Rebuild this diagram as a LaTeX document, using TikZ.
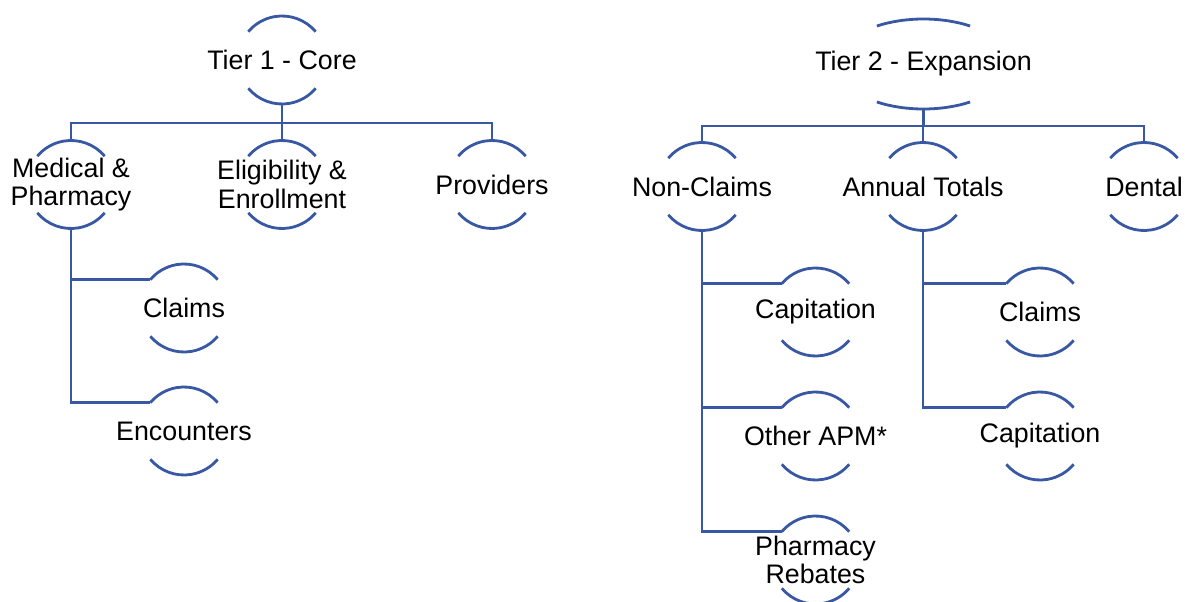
\documentclass[tikz,border=0pt]{standalone}
\usepackage{fontspec}
\setmainfont{Liberation Sans}
\usepackage{tikz}
\usetikzlibrary{calc}
\definecolor{linkblue}{RGB}{56,88,164}

\begin{document}
\begin{tikzpicture}[x=0.5pt,y=0.5pt,
  lbl/.style={font=\fontsize{13.4}{14.4}\selectfont, align=center, inner sep=0pt, minimum height=44pt},
  ring/.style={draw=linkblue, line width=1.4pt},
  link/.style={draw=linkblue, line width=1.4pt}]
\useasboundingbox[fill=white] (0,0) rectangle (1185,601);
% round nodes: text with an arc above and below
\foreach \n/\x/\y/\t in {tier1/282/541/{Tier 1 - Core},
    medph/71/416.5/{Medical \&\\Pharmacy}, elig/282/416.5/{Eligibility \&\\Enrollment},
    prov/492/416.5/{Providers}, claimsA/184/293/{Claims}, encount/184/170/{Encounters},
    noncl/702/414.5/{Non-Claims}, annual/923/414.5/{Annual Totals}, dental/1144/414.5/{Dental},
    capA/815.5/289/{Capitation}, otherapm/815.5/165/{Other APM*}, pharmreb/815.5/41/{Pharmacy\\Rebates},
    claimsB/1040/289/{Claims}, capB/1040/165/{Capitation}} {
  \node[lbl] (\n) at (\x,\y) {\t};
  \draw[ring] (\n.center) ++(40:44) arc[start angle=40, end angle=140, radius=44] coordinate (\n-w);
  \draw[ring] (\n.center) ++(220:44) arc[start angle=220, end angle=320, radius=44];
}
% the wide one
\node[lbl, minimum height=45pt] (tier2) at (923.5,537) {Tier 2 - Expansion};
\draw[ring] (tier2.center) ++(57.6:87 and 45) arc[start angle=57.6, end angle=122.4, x radius=87, y radius=45];
\draw[ring] (tier2.center) ++(237.6:87 and 45) arc[start angle=237.6, end angle=302.4, x radius=87, y radius=45];

% tier 1 tree
\coordinate (busA) at (282,478);
\draw[link] (tier1.south) -- (busA);
\foreach \c in {medph,elig,prov} \draw[link] (busA) -| (\c.north);
\foreach \c in {claimsA,encount} \draw[link] (medph.south) |- (\c-w);

% tier 2 tree
\coordinate (busB) at (923.5,475);
\draw[link] (tier2.south) -- (busB);
\foreach \c in {noncl,annual,dental} \draw[link] (busB) -| (\c.north);
\foreach \c in {capA,otherapm,pharmreb} \draw[link] (noncl.south) |- (\c-w);
\foreach \c in {claimsB,capB} \draw[link] (annual.south) |- (\c-w);
\end{tikzpicture}
\end{document}
